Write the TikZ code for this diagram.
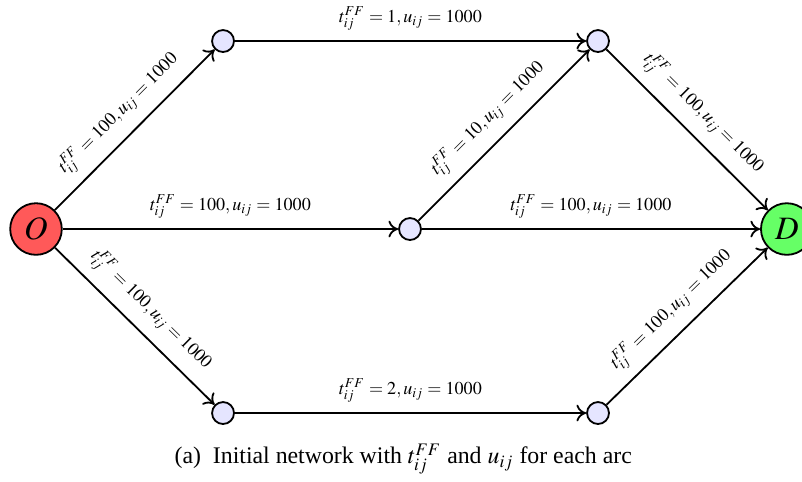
\documentclass[tikz,border=0pt]{standalone}
\usepackage{mathptmx}
\usepackage[no-math]{fontspec}
\setmainfont{Liberation Serif}
\usetikzlibrary{arrows.meta}

\begin{document}
\begin{tikzpicture}[>={To[length=1.5mm,width=2.6mm]},font=\footnotesize,thick,
  endpt/.style={circle,draw,minimum size=0.8cm,inner sep=0pt,font=\Large},
  hub/.style={circle,draw,fill=blue!10,minimum size=0.34cm,inner sep=0pt},
  arc/.style={->},
  cost/.style={midway,sloped,above=1pt}]
\useasboundingbox (0,0) rectangle (12.431,7.456);
\node[endpt,fill=red!65] (O) at (0.558,3.906) {$O$};
\node[endpt,fill=green!60] (D) at (12.195,3.906) {$D$};
\node[hub] (up1) at (3.457,6.82) {};
\node[hub] (up2) at (9.269,6.82) {};
\node[hub] (mid) at (6.355,3.906) {};
\node[hub] (lo1) at (3.457,1.054) {};
\node[hub] (lo2) at (9.269,1.054) {};
\draw[arc] (O) -- (up1) node[cost]{$t_{ij}^{FF}=100,u_{ij}=1000$};
\draw[arc] (up1) -- (up2) node[cost]{$t_{ij}^{FF}=1,u_{ij}=1000$};
\draw[arc] (up2) -- (D) node[cost]{$t_{ij}^{FF}=100,u_{ij}=1000$};
\draw[arc] (O) -- (mid) node[cost]{$t_{ij}^{FF}=100,u_{ij}=1000$};
\draw[arc] (mid) -- (up2) node[cost]{$t_{ij}^{FF}=10,u_{ij}=1000$};
\draw[arc] (mid) -- (D) node[cost]{$t_{ij}^{FF}=100,u_{ij}=1000$};
\draw[arc] (O) -- (lo1) node[cost]{$t_{ij}^{FF}=100,u_{ij}=1000$};
\draw[arc] (lo1) -- (lo2) node[cost]{$t_{ij}^{FF}=2,u_{ij}=1000$};
\draw[arc] (lo2) -- (D) node[cost]{$t_{ij}^{FF}=100,u_{ij}=1000$};
\node[font=\normalsize,scale=1.05] (cap) at (6.25,0.34) {(a)\enspace Initial network with $t_{ij}^{FF}$ and $u_{ij}$ for each arc};
\end{tikzpicture}
\end{document}
